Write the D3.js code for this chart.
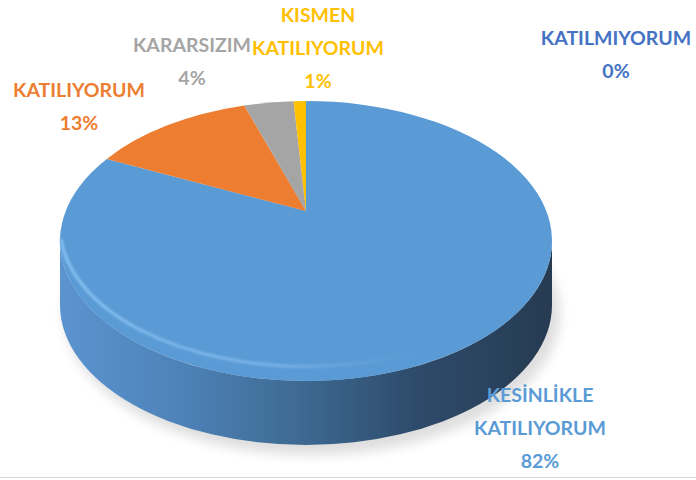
<!DOCTYPE html>
<meta charset="utf-8">
<head>
<style>
  body { margin: 0; background: #fff; }
  text { font-family: Lato, "Open Sans", sans-serif; font-weight: 700; }
</style>
</head>
<script src="https://d3js.org/d3.v7.min.js"></script>
<body>
<div id="my_dataviz"></div>
</body>
<script>
// chart data
var categories = ["KESİNLİKLE KATILIYORUM", "KATILIYORUM", "KARARSIZIM", "KISMEN KATILIYORUM", "KATILMIYORUM"];
var values = [82, 13, 4, 1, 0];
var labelLines = [["KESİNLİKLE", "KATILIYORUM"], ["KATILIYORUM"], ["KARARSIZIM"], ["KISMEN", "KATILIYORUM"], ["KATILMIYORUM"]];

// styles and label placement
var sliceColors = ["#5b9bd5", "#ed7d31", "#a5a5a5", "#ffc000", "#4472c4"];
var labelColors = ["#5b9bd5", "#ed7d31", "#a5a5a5", "#ffc000", "#4472c4"];
var labelAnchor = [[540, 402], [79, 97], [192, 52], [318, 22], [616, 45]];

var width = 696, height = 480;
var cx = 306, cy = 241, rx = 246, ry = 140, depth = 64;
var apexY = 211;   // where the pie centre lands after perspective

var svg = d3.select("#my_dataviz")
  .append("svg")
    .attr("width", width)
    .attr("height", height);

var defs = svg.append("defs");

var side = defs.append("linearGradient").attr("id", "sideGrad")
  .attr("x1", "0%").attr("x2", "100%").attr("y1", "0%").attr("y2", "0%");
[["0%", "#5b94d0"], ["25%", "#4d82b7"], ["50%", "#3d6890"], ["72%", "#2e4b6b"], ["100%", "#263b52"]]
  .forEach(function(s) { side.append("stop").attr("offset", s[0]).attr("stop-color", s[1]); });

var rim = defs.append("linearGradient").attr("id", "rimGrad")
  .attr("x1", "0%").attr("x2", "100%").attr("y1", "0%").attr("y2", "0%");
[["0%", "#8cc4f5", 0.9], ["45%", "#7fb7ea", 0.8], ["75%", "#5b9bd5", 0.2], ["100%", "#5b9bd5", 0]]
  .forEach(function(s) { rim.append("stop").attr("offset", s[0]).attr("stop-color", s[1]).attr("stop-opacity", s[2]); });

defs.append("filter").attr("id", "blur6").attr("x", "-20%").attr("y", "-20%").attr("width", "140%").attr("height", "140%")
  .append("feGaussianBlur").attr("stdDeviation", 6);
defs.append("filter").attr("id", "blur1")
  .append("feGaussianBlur").attr("stdDeviation", 1.2);

// angle scale: cumulative share -> angle, clockwise from the top
var total = d3.sum(values);
var angle = d3.scaleLinear().domain([0, total]).range([0, 2 * Math.PI]);
var pie = d3.pie().sort(null).value(function(d) { return d; });
var arcs = pie(values);

// perspective: y = (pa*z + apexY) / (1 + pc*z), z = -cos(t) (-1 far, +1 near)
var yFar = cy - ry, yNear = cy + ry;
var pc = (2 * apexY - yNear - yFar) / (yNear - yFar);
var pa = yNear * (1 + pc) - apexY;
var kx = rx * Math.sqrt(1 - pc * pc);

function edge(t) {
  var z = -Math.cos(t), den = 1 + pc * z;
  return [cx + kx * Math.sin(t) / den, (pa * z + apexY) / den];
}
function param(p) {
  return Math.atan2((p[0] - cx) / rx, -(p[1] - cy) / ry);
}

// shadow
svg.append("ellipse")
  .attr("cx", cx + 6).attr("cy", cy + depth + 8)
  .attr("rx", rx + 2).attr("ry", ry + 2)
  .style("fill", "#000").style("opacity", 0.13)
  .attr("filter", "url(#blur6)");

// side wall (front half)
var L = [cx - rx, cy], R = [cx + rx, cy];
svg.append("path")
  .attr("d", "M" + R + " A" + rx + " " + ry + " 0 0 1 " + L +
             " L" + L[0] + "," + (L[1] + depth) +
             " A" + rx + " " + ry + " 0 0 0 " + R[0] + "," + (R[1] + depth) + " Z")
  .style("fill", "url(#sideGrad)");

// top slices
svg.append("g").selectAll("path")
  .data(arcs)
  .enter()
  .append("path")
    .attr("d", function(d, i) {
      var a0 = angle(d3.sum(values.slice(0, i)));
      var a1 = angle(d3.sum(values.slice(0, i + 1)));
      if (a0 === a1) return null;
      var p0 = edge(a0), p1 = edge(a1);
      var span = param(p1) - param(p0);
      while (span <= 0) span += 2 * Math.PI;
      var large = span > Math.PI ? 1 : 0;
      return "M" + cx + "," + apexY + " L" + p0 + " A" + rx + " " + ry + " 0 " + large + " 1 " + p1 + " Z";
    })
    .style("fill", function(d, i) { return sliceColors[i]; });

// bevel highlight along the front edge
svg.append("path")
  .attr("d", "M" + [cx - rx + 1, cy] + " A" + rx + " " + ry + " 0 0 0 " + [cx + rx - 1, cy])
  .style("fill", "none")
  .style("stroke", "url(#rimGrad)")
  .style("stroke-width", 3)
  .attr("transform", "translate(0,-2)")
  .attr("filter", "url(#blur1)");

// labels
var labels = svg.append("g").selectAll("text")
  .data(categories)
  .enter()
  .append("text")
    .attr("x", function(d, i) { return labelAnchor[i][0]; })
    .attr("y", function(d, i) { return labelAnchor[i][1]; })
    .style("text-anchor", "middle")
    .style("font-size", "19.5px")
    .style("fill", function(d, i) { return labelColors[i]; });

labels.each(function(d, i) {
  var t = d3.select(this);
  var lines = labelLines[i].concat([Math.round(values[i] / total * 100) + "%"]);
  lines.forEach(function(s, k) {
    t.append("tspan")
      .attr("x", labelAnchor[i][0])
      .attr("dy", k === 0 ? 0 : 33)
      .text(s);
  });
});

// chart border line at the bottom
svg.append("line")
  .attr("x1", 0).attr("x2", width)
  .attr("y1", 477.5).attr("y2", 477.5)
  .style("stroke", "#d9d9d9");
</script>
